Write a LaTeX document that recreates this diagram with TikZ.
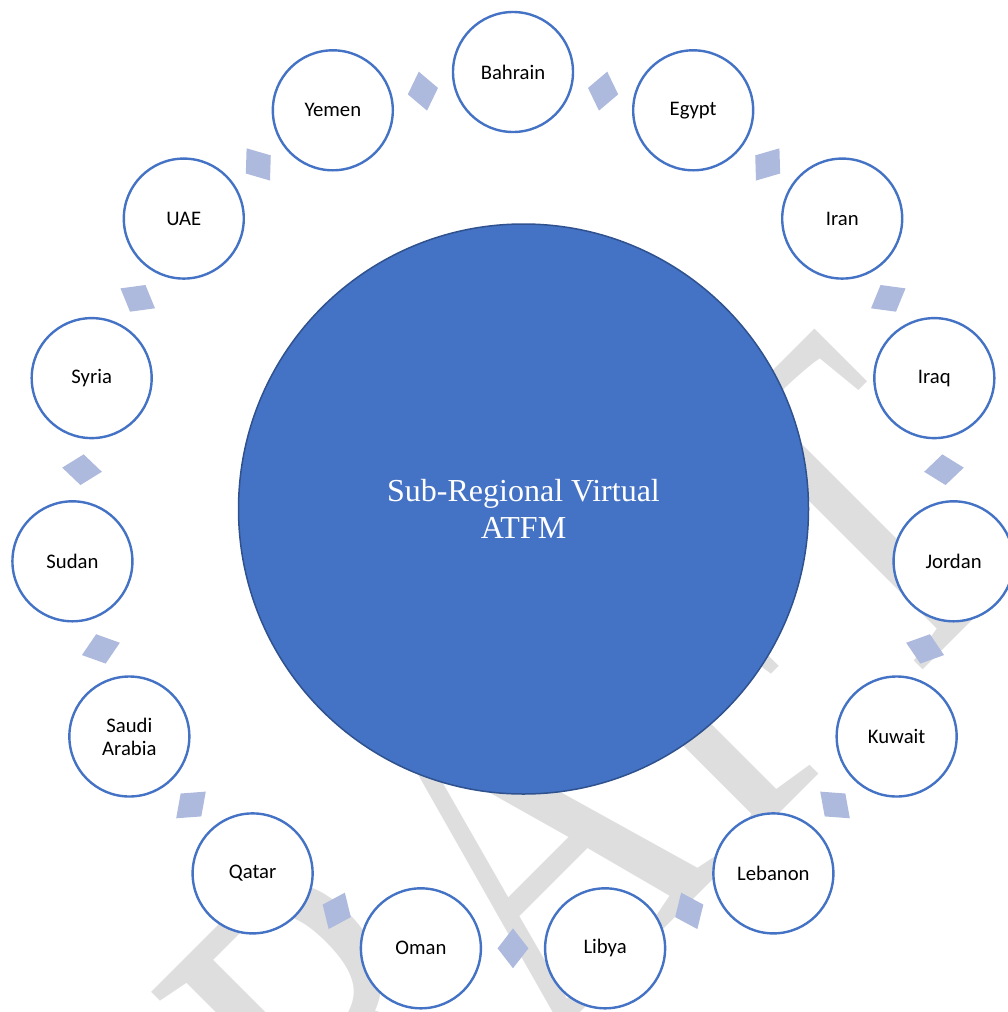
\documentclass[tikz,border=0pt]{standalone}
\usepackage{fontspec}
\setmainfont{Carlito}
\newfontfamily\seriffont{Liberation Serif}
\usetikzlibrary{shapes.geometric,calc}
\definecolor{accent}{HTML}{4472C4}
\definecolor{accentdark}{HTML}{2F528F}
\definecolor{linkblue}{RGB}{173,186,222}
\definecolor{wmgray}{RGB}{222,222,222}
\begin{document}
\begin{tikzpicture}[x=1pt,y=-1pt,
  country/.style={circle, draw=accent, line width=2.4pt, fill=white, minimum size=120pt, inner sep=0pt, align=center, font=\fontsize{20.7}{23}\selectfont},
  link/.style={diamond, fill=linkblue, draw=none, minimum width=31pt, minimum height=40pt, inner sep=0pt},
  hub/.style={circle, fill=accent, draw=accentdark, line width=1.5pt, minimum size=570pt, inner sep=0pt, align=center, text=white, font=\seriffont\fontsize{32}{37}\selectfont},
  watermark/.style={text=wmgray, font=\seriffont\fontsize{485}{485}\selectfont, inner sep=0pt}
]
\useasboundingbox (0,0) rectangle (1008,1012);
\clip (0,0) rectangle (1008,1012);
\node[watermark, anchor=base, rotate=45] (wm) at (611,982) {\scalebox{0.77}[1]{DRAFT}};
\node[hub] (hub) at (523.5,509) {Sub-Regional Virtual\\ATFM};
\foreach \name/\txt/\ang in {bahrain/Bahrain/90, egypt/Egypt/66, iran/Iran/42, iraq/Iraq/18, jordan/Jordan/-6, kuwait/Kuwait/-30, lebanon/Lebanon/-54, libya/Libya/-78, oman/Oman/-102, qatar/Qatar/-126, saudi/{Saudi\\Arabia}/-150, sudan/Sudan/-174, syria/Syria/162, uae/UAE/138, yemen/Yemen/114}
  \node[country] (\name) at ({513+443*cos(\ang)},{515-443*sin(\ang)}) {\txt};
\foreach \a/\b/\ang in {bahrain/egypt/78, egypt/iran/54, iran/iraq/30, iraq/jordan/6, jordan/kuwait/-18, kuwait/lebanon/-42, lebanon/libya/-66, libya/oman/-90, oman/qatar/-114, qatar/saudi/-138, saudi/sudan/-162, sudan/syria/174, syria/uae/150, uae/yemen/126, yemen/bahrain/102}
  \node[link, rotate=\ang-90] (l-\a-\b) at ($(\a)!0.5!(\b)$) {};
\end{tikzpicture}
\end{document}
